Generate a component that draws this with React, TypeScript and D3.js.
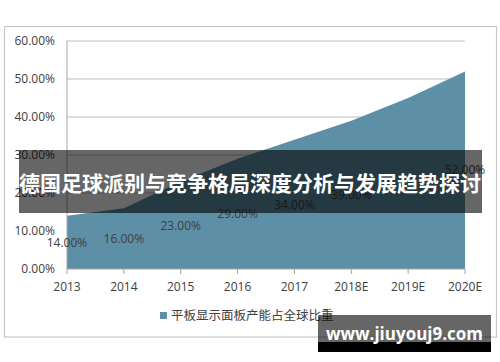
import React from "react";
import * as d3 from "d3";

const categories = ["2013", "2014", "2015", "2016", "2017", "2018E", "2019E", "2020E"];
const values = [14, 16, 23, 29, 34, 39, 45, 52];
const labelShown = [true, true, true, true, true, true, false, true];
const yTicks = [0, 10, 20, 30, 40, 50, 60];
const seriesName = "平板显示面板产能占全球比重";
const title = "德国足球派别与竞争格局深度分析与发展趋势探讨";
const watermark = "www.jiuyouj9.com";

export default function App() {
  const W = 500, H = 362;
  const x = d3.scalePoint<string>().domain(categories).range([67, 465]);
  const y = d3.scaleLinear().domain([0, 60]).range([269, 41]);
  const data = categories.map((c, i) => ({ c, v: values[i], show: labelShown[i] }));
  const area = d3.area<{ c: string; v: number }>()
    .x(d => x(d.c)!)
    .y0(y(0))
    .y1(d => y(d.v));
  const font = "'Open Sans', 'Noto Sans CJK SC', sans-serif";
  const textColor = "#404040";
  return (
    <svg width={W} height={H} style={{ position: "absolute", left: 0, top: 0, display: "block" }}>
      <rect x={0} y={0} width={W} height={H} fill="#fff" />
      <rect x={4.5} y={26.5} width={492} height={310.5} fill="#fff" stroke="#c8c8c8" strokeWidth={1.2} />
      {yTicks.slice(1).map(t => (
        <line key={t} x1={67} x2={465} y1={y(t)} y2={y(t)} stroke="#bdbdbd" strokeWidth={1} />
      ))}
      <path d={area(data) || ""} fill="#5d8fa7" />
      <line x1={67} x2={67} y1={41} y2={269} stroke="#a6a6a6" strokeWidth={1} />
      <line x1={67} x2={465} y1={269} y2={269} stroke="#a6a6a6" strokeWidth={1} />
      {categories.map(c => (
        <line key={c} x1={x(c)!} x2={x(c)!} y1={269} y2={274} stroke="#a6a6a6" strokeWidth={1} />
      ))}
      {yTicks.map(t => (
        <text key={t} x={55} y={y(t)} dy="0.35em" textAnchor="end" fontFamily={font} fontSize={12} fill={textColor}>
          {t.toFixed(2)}%
        </text>
      ))}
      {categories.map(c => (
        <text key={c} x={x(c)!} y={291} textAnchor="middle" fontFamily={font} fontSize={12} fill={textColor}>
          {c}
        </text>
      ))}
      {data.filter(d => d.show).map(d => (
        <text key={d.c} x={x(d.c)!} y={y(d.v / 2)} dy="0.35em" textAnchor="middle" fontFamily={font} fontSize={12} fill={textColor}>
          {d.v.toFixed(2)}%
        </text>
      ))}
      <rect x={160} y={312} width={7} height={7} fill="#5d8fa7" />
      <text x={171} y={315.5} dy="0.35em" fontFamily={font} fontSize={12.5} fill={textColor}>{seriesName}</text>
      <rect x={19} y={150} width={463} height={63} fill="rgba(0,0,0,0.6)" />
      <text x={250} y={191} textAnchor="middle" fontFamily="'Noto Sans CJK SC', sans-serif" fontWeight="bold" fontSize={21} fill="#fff">{title}</text>
      <rect x={318} y={315} width={173} height={27} fill="rgba(0,0,0,0.6)" />
      <rect x={318} y={342} width={173} height={10} fill="#000" />
      <text x={404.5} y={340} textAnchor="middle" fontFamily="'Open Sans', sans-serif" fontWeight="bold" fontSize={17} fill="#fff">{watermark}</text>
    </svg>
  );
}
